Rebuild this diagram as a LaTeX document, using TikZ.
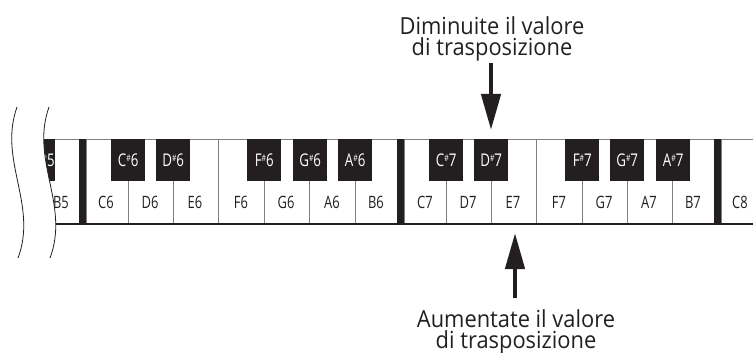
\documentclass[tikz,border=0pt]{standalone}
\usepackage{fontspec}
\setmainfont{Open Sans}
\newfontfamily\keyfont[FakeStretch=0.76]{Open Sans}
\newfontfamily\notefont[FakeStretch=0.93]{Open Sans}
\usetikzlibrary{arrows.meta}
\definecolor{ink}{HTML}{231F20}
\definecolor{sep}{HTML}{7F7F7F}
\newcommand{\shp}{{\fontsize{9}{9}\selectfont\raisebox{5pt}{\#}}}
\begin{document}
\begin{tikzpicture}[x=1pt,y=-1pt,
  wkey/.style={draw=sep, line width=0.9pt, fill=white, inner sep=0, anchor=north west, minimum height=84pt},
  barkey/.style={fill=ink, inner sep=0, anchor=north west, minimum width=7pt, minimum height=84pt},
  bkey/.style={fill=ink, inner sep=0, anchor=north west, minimum width=34pt, minimum height=42pt,
    text=white, font=\keyfont\fontsize{17.5}{17.5}\selectfont, text height=13pt, text depth=0pt},
  wlab/.style={font=\keyfont\fontsize{17}{17}\selectfont, text=ink, anchor=base, inner sep=0},
  note/.style={font=\notefont\fontsize{23.5}{21}\selectfont, text=ink, anchor=north, inner sep=0, align=center},
  bigarrow/.style={draw=ink, line width=4.5pt, -{Triangle[width=19pt,length=36pt]}},
  wave/.style={draw=ink, line width=0.8pt},
]
\useasboundingbox (0,0) rectangle (753,353);
% white keys
\foreach \n/\l/\r/\c in {B5/34/79/61, C6/86/128/106, D6/128/173/150, E6/173/218/195, F6/218/264/241,
  G6/264/309/286, A6/309/355/332, B6/355/397/376, C7/404/446/425, D7/446/491/468, E7/491/536/513,
  F7/536/582/559, G7/582/627/604, A7/627/672/649, B7/672/714/693, C8/721/770/740} {
  \pgfmathsetmacro\w{\r-\l}
  \node[wkey, minimum width=\w pt] (k\n) at (\l,139) {};
  \node[wlab] (l\n) at (\c,208) {\n};
}
% octave bars
\foreach \n/\l in {a/79, b/397, c/714} {
  \node[barkey] (bar\n) at (\l,139) {};
}
\draw[ink, line width=1.2pt] (kB5.south west) -- (kC8.south east);
% black keys
\node[bkey] (kAs5) at (20,139) {\hspace*{14pt}A\shp5};
\node[bkey] (kCs6) at (111,139) {C\shp6};
\node[bkey] (kDs6) at (156,139) {D\shp6};
\node[bkey] (kFs6) at (247,139) {F\shp6};
\node[bkey] (kGs6) at (293,139) {G\shp6};
\node[bkey] (kAs6) at (338,139) {A\shp6};
\node[bkey] (kCs7) at (429,139) {C\shp7};
\node[bkey] (kDs7) at (474,139) {D\shp7};
\node[bkey] (kFs7) at (565,139) {F\shp7};
\node[bkey] (kGs7) at (610,139) {G\shp7};
\node[bkey] (kAs7) at (656,139) {A\shp7};
% cut-off mask and wavy lines
\fill[white] (0,100) -- (49,100) -- (49,107) .. controls (30,160) and (70,205) .. (50,258) -- (50,265) -- (0,265) -- cycle;
\draw[wave] (49,107) .. controls (30,160) and (70,205) .. (50,258);
\draw[wave] (17,107) .. controls (-2,160) and (38,205) .. (18,258);
% labels and arrows
\node[note] (dim) at (492,16) {Diminuite il valore\\di trasposizione};
\coordinate (dtail) at (491,63);
\coordinate (dtip) at (491,130);
\draw[bigarrow] (dtail) -- (dtip);
\node[note] (aum) at (516,309) {Aumentate il valore\\di trasposizione};
\coordinate (utail) at (515,298);
\coordinate (utip) at (515,233);
\draw[bigarrow] (utail) -- (utip);
\end{tikzpicture}
\end{document}
